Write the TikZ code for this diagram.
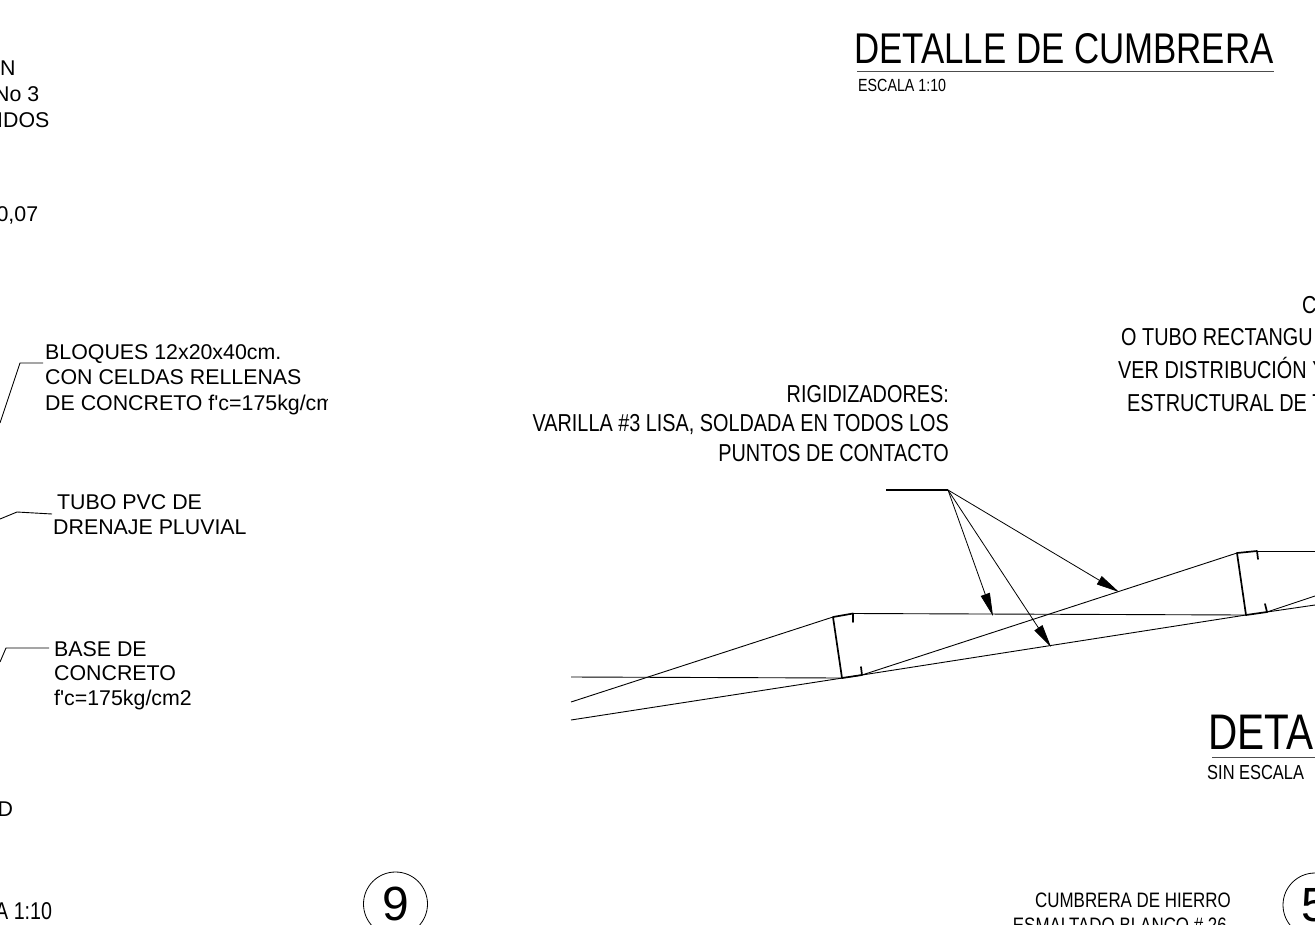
\documentclass[tikz,border=0pt]{standalone}
\usepackage{fontspec}
\setmainfont{Liberation Sans}
\newfontfamily\narrowfont[FakeStretch=0.81]{Liberation Sans}
\newfontfamily\labelfont{Liberation Sans}
\usetikzlibrary{arrows.meta}
\tikzset{
  ln/.style={line width=0.9pt,black},
  heavy/.style={line width=1.7pt,black,line cap=round,line join=round},
  ldr/.style={line width=0.8pt,black,-{Triangle[length=23pt,width=9.5pt]}},
  sans/.style={inner sep=0pt,font=\labelfont\fontsize{21.35}{25}\selectfont,align=left,text=black},
  nar/.style={inner sep=0pt,font=\narrowfont\fontsize{24.5}{29}\selectfont,align=right,text=black},
  nars/.style={inner sep=0pt,font=\narrowfont\fontsize{20.9}{25}\selectfont,text=black},
  numbered/.style={draw,circle,line width=0.8pt,minimum size=64pt,inner sep=0pt,font=\labelfont\fontsize{48}{48}\selectfont}
}
\begin{document}
\begin{tikzpicture}[x=1pt,y=-1pt]
\useasboundingbox (0,0) rectangle (1315,924);
\clip (0,0) rectangle (1315,924);
% titles
\node[inner sep=0pt,anchor=base west,font=\narrowfont\fontsize{43}{43}\selectfont] (t1) at (854,63) {DETALLE DE CUMBRERA};
\coordinate (t1a) at (857,71); \coordinate (t1b) at (1274,71);
\draw[ln,black!70] (t1a) -- (t1b);
\node[inner sep=0pt,anchor=base west,font=\narrowfont\fontsize{17.6}{18}\selectfont] (s1) at (858,91) {ESCALA 1:10};
\node[inner sep=0pt,anchor=base west,font=\narrowfont\fontsize{50}{50}\selectfont] (t2) at (1208,749) {DETA};
\coordinate (t2a) at (1212,757); \coordinate (t2b) at (1315,757);
\draw[ln,black!70] (t2a) -- (t2b);
\node[inner sep=0pt,anchor=base west,font=\narrowfont\fontsize{20.3}{20}\selectfont] (s2) at (1207,779) {SIN ESCALA};
% left labels
\node[sans,anchor=base west] (l1) at (0,75) {N};
\node[sans,anchor=base west] (l2) at (-6,101) {No 3};
\node[sans,anchor=base west] (l3) at (-3,127) {IDOS};
\node[sans,anchor=base west] (l4) at (-3.6,221) {0,07};
\begin{scope}
\clip (0,340) rectangle (327,420);
\node[sans,anchor=base west] (b1) at (45,359) {BLOQUES 12x20x40cm.};
\node[sans,anchor=base west] (b2) at (45,384) {CON CELDAS RELLENAS};
\node[sans,anchor=base west] (b3) at (45,410) {DE CONCRETO f'c=175kg/cm};
\end{scope}
\coordinate (p1) at (0,423); \coordinate (p2) at (20,363); \coordinate (p3) at (43,363);
\draw[ln] (p1) -- (p2) -- (p3);
\node[sans,anchor=base west] (c1) at (57,509) {TUBO PVC DE};
\node[sans,anchor=base west] (c2) at (53,534) {DRENAJE PLUVIAL};
\coordinate (q1) at (0,519); \coordinate (q2) at (17,512); \coordinate (q3) at (52,514);
\draw[ln] (q1) -- (q2) -- (q3);
\node[sans,anchor=base west] (d1) at (54,656) {BASE DE};
\node[sans,anchor=base west] (d2) at (54,680) {CONCRETO};
\node[sans,anchor=base west] (d3) at (54,705) {f'c=175kg/cm2};
\coordinate (r1) at (0,662); \coordinate (r2) at (6,648); \coordinate (r3) at (49,648);
\draw[ln] (r1) -- (r2) -- (r3);
\node[sans,anchor=base west] (l5) at (-2.5,816) {D};
\node[inner sep=0pt,anchor=base west,font=\narrowfont\fontsize{24.3}{24}\selectfont] (l6) at (-5,919) {A 1:10};
% rigidizadores
\node[nar,anchor=base east] (g1) at (949,402) {RIGIDIZADORES:};
\node[nar,anchor=base east] (g2) at (949,431) {VARILLA \#3 LISA, SOLDADA EN TODOS LOS};
\node[nar,anchor=base east] (g3) at (949,461) {PUNTOS DE CONTACTO};
% right block
\node[nar,anchor=base west] (k1) at (1302,313) {C};
\node[nar,anchor=base west] (k2) at (1121,345) {O TUBO RECTANGU};
\node[nar,anchor=base west] (k3) at (1118,378) {VER DISTRIBUCIÓN Y};
\node[nar,anchor=base west] (k4) at (1127,411) {ESTRUCTURAL DE T};
% bottom
\node[nars,anchor=base east] (m1) at (1231,907) {CUMBRERA DE HIERRO};
\node[nars,anchor=base east] (m2) at (1227,932) {ESMALTADO BLANCO \# 26};
\node[numbered] (c9) at (395.5,904) {\raisebox{-5pt}{9}};
\node[numbered] (c5) at (1315,905) {\raisebox{-5pt}{5}};
% truss
\coordinate (a0) at (886,490); \coordinate (a1) at (948,490);
\draw[line width=1.1pt] (a0) -- (a1);
\coordinate (h1) at (571,677);
\coordinate (j1) at (571,702);
\coordinate (u1) at (571,720);
% panel 1
\coordinate (pa) at (833,617); \coordinate (pb) at (853,613.5);
\coordinate (pc) at (853,622); \coordinate (pd) at (842,678);
\coordinate (pe) at (862,675); \coordinate (pf) at (861,667);
% panel 2
\coordinate (qa) at (1237,553); \coordinate (qb) at (1257,551);
\coordinate (qc) at (1258,559); \coordinate (qd) at (1246,615);
\coordinate (qe) at (1267,612); \coordinate (qf) at (1265,604);
% free ends
\coordinate (e1) at (1315,551);
\coordinate (e2) at (1315,596);
\coordinate (e3) at (1315,605);
% chords
\draw[ln] (h1) -- (pd);
\draw[ln] (j1) -- (pa);
\draw[ln] (u1) -- (pe);
\draw[ln] (pb) -- (qd);
\draw[ln] (pe) -- (qa);
\draw[ln] (pe) -- (qd);
\draw[ln] (qb) -- (e1);
\draw[ln] (qe) -- (e2);
\draw[ln] (qe) -- (e3);
% panels
\draw[heavy] (pc) -- (pb) -- (pa) -- (pd) -- (pe) -- (pf);
\draw[heavy] (qc) -- (qb) -- (qa) -- (qd) -- (qe) -- (qf);
% leaders
\coordinate (tip1) at (993,616); \coordinate (tip2) at (1051,647); \coordinate (tip3) at (1119,592);
\draw[ldr] (a1) -- (tip1);
\draw[ldr] (a1) -- (tip2);
\draw[ldr] (a1) -- (tip3);
\end{tikzpicture}
\end{document}
